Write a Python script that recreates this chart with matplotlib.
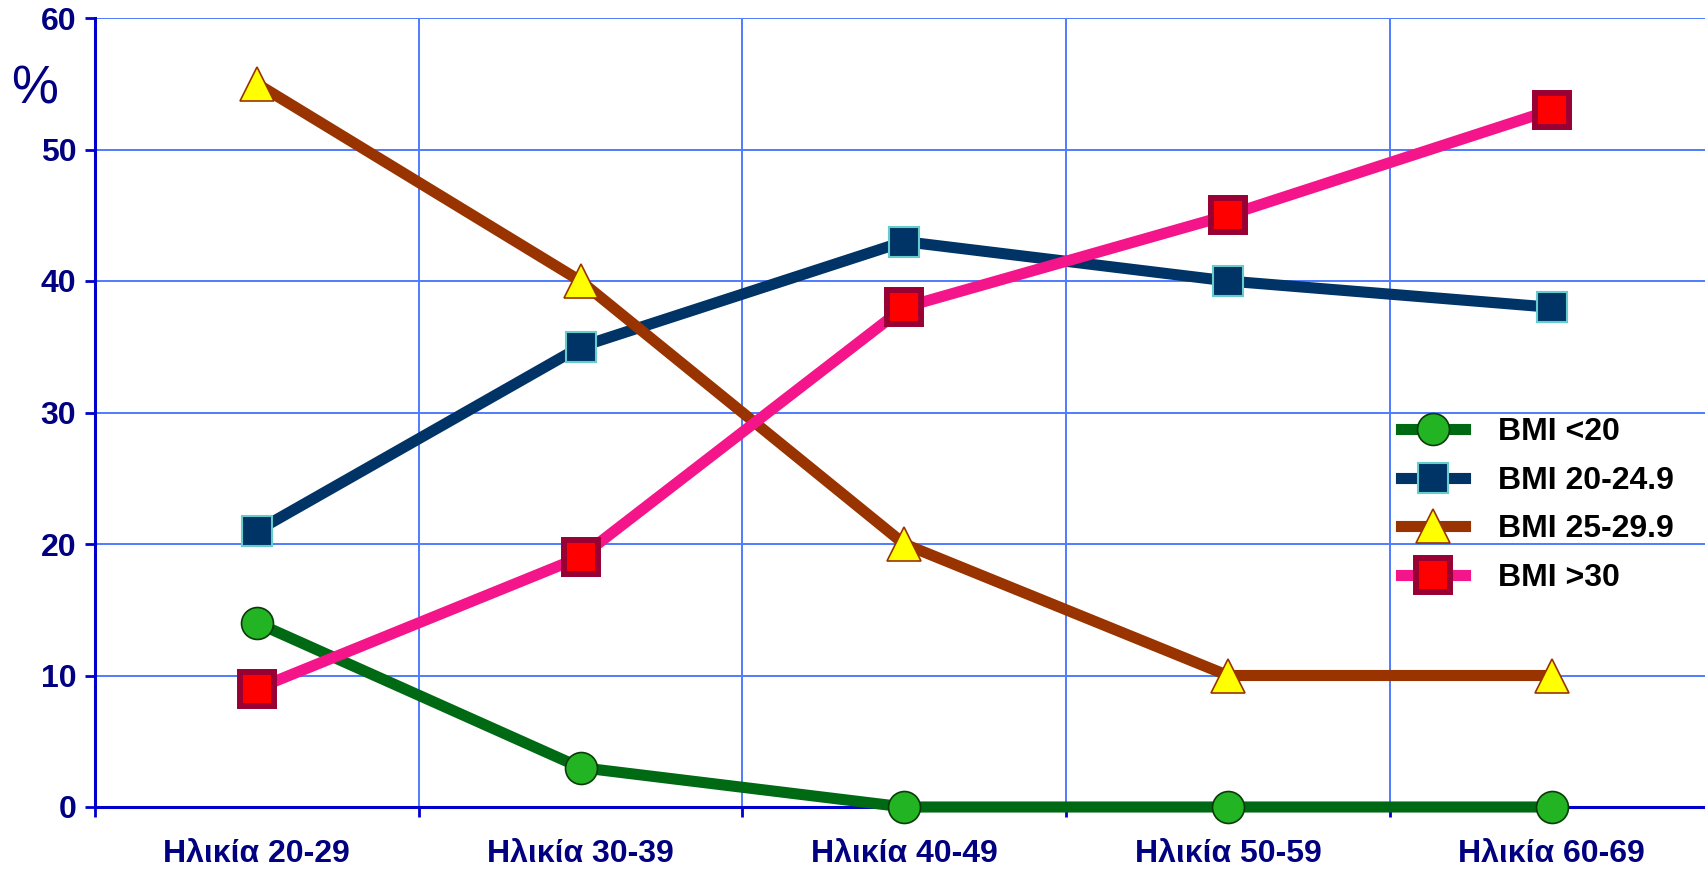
import numpy as np
import matplotlib
matplotlib.use('Agg')
import matplotlib.pyplot as plt
from matplotlib.ticker import FixedLocator

# data
ages = ['Ηλικία 20-29', 'Ηλικία 30-39', 'Ηλικία 40-49', 'Ηλικία 50-59', 'Ηλικία 60-69']
bmi_lt20 = [14, 3, 0, 0, 0]
bmi_20_249 = [21, 35, 43, 40, 38]
bmi_25_299 = [55, 40, 20, 10, 10]
bmi_gt30 = [9, 19, 38, 45, 53]
labels = ['BMI <20', 'BMI 20-24.9', 'BMI 25-29.9', 'BMI >30']
yticks = [0, 10, 20, 30, 40, 50, 60]

plt.rcParams['font.family'] = ['Liberation Sans', 'DejaVu Sans']

fig = plt.figure(figsize=(17.05, 8.69), dpi=100)
ax = fig.add_axes([95/1705, 62/869, 1 - 95/1705, (807-18)/869])

x = np.arange(len(ages))
lw = 8
ax.plot(x, bmi_lt20, color='#006913', lw=lw, marker='o', ms=23,
        mfc='#22B422', mec='#0A3A0A', mew=1.2, label=labels[0], clip_on=False, zorder=5)
ax.plot(x, bmi_20_249, color='#003366', lw=lw, marker='s', ms=22,
        mfc='#003366', mec='#66CCCC', mew=1.5, label=labels[1], clip_on=False, zorder=4)
ax.plot(x, bmi_25_299, color='#993300', lw=lw, marker='^', ms=24,
        mfc='#FFFF00', mec='#993300', mew=1.2, label=labels[2], clip_on=False, zorder=4)
ax.plot(x, bmi_gt30, color='#F5158A', lw=lw, marker='s', ms=24,
        mfc='#FF0000', mec='#990033', mew=4.3, label=labels[3], clip_on=False, zorder=6)

ax.set_xlim(-0.5, 4.474)
ax.set_ylim(0, 60)

# category labels at centres, tick marks at boundaries
ax.set_xticks(x)
ax.set_xticklabels(ages)
ax.xaxis.set_minor_locator(FixedLocator(np.arange(-0.5, 4.5, 1.0)))
ax.tick_params(axis='x', which='major', length=0, pad=23)
ax.tick_params(axis='x', which='minor', length=7, width=2, color='#0000CC')
ax.set_yticks(yticks)
ax.tick_params(axis='y', length=7, width=2, color='#0000CC', pad=6.5)
for lab in ax.get_xticklabels() + ax.get_yticklabels():
    lab.set_fontsize(23)
    lab.set_fontweight('bold')
    lab.set_color('#000080')

ax.grid(True, which='minor', axis='x', color='#4F7BFF', lw=1.4)
ax.grid(True, which='major', axis='y', color='#4F7BFF', lw=1.4)
ax.set_axisbelow(True)
for s in ['top', 'right']:
    ax.spines[s].set_visible(False)
for s in ['left', 'bottom']:
    ax.spines[s].set_color('#0000CC')
    ax.spines[s].set_linewidth(2.2)

fig.text(35/1705, 1 - 89/869, '%', fontsize=38, color='#000080', ha='center', va='center')

ax.legend(loc='center left', bbox_to_anchor=(1401/1705, 1 - 505/869),
          bbox_transform=fig.transFigure, frameon=False, borderpad=0,
          borderaxespad=0, handlelength=2.0, handletextpad=1.03, labelspacing=0.58,
          prop={'size': 23, 'weight': 'bold'})

plt.savefig('out.png', dpi=100)
